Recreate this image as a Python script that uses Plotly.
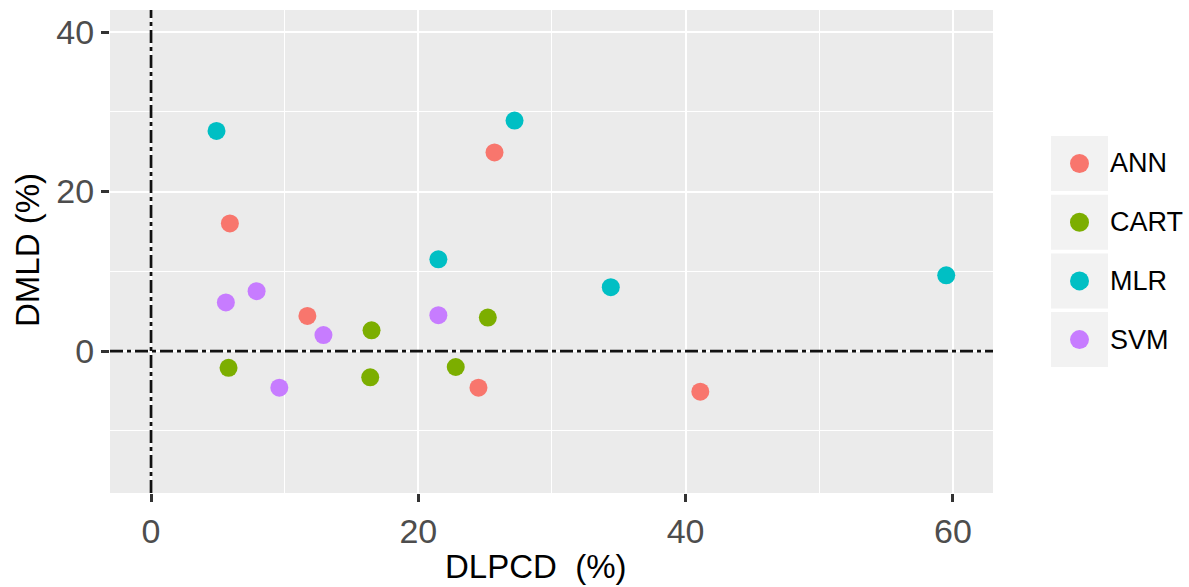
import plotly.graph_objects as go

# Model error comparison: DLPCD (x) versus DMLD (y), in percent
models = ["ANN", "CART", "MLR", "SVM"]
colors = ["#F8766D", "#7CAE00", "#00BFC4", "#C77CFF"]

ann_x = [5.9, 25.7, 11.7, 24.5, 41.1]
ann_y = [16.0, 24.9, 4.4, -4.6, -5.1]

cart_x = [5.8, 16.5, 16.4, 22.8, 25.2]
cart_y = [-2.1, 2.6, -3.3, -2.0, 4.2]

mlr_x = [4.9, 27.2, 21.5, 34.4, 59.5]
mlr_y = [27.6, 28.9, 11.5, 8.0, 9.5]

svm_x = [5.6, 7.9, 12.9, 9.6, 21.5]
svm_y = [6.1, 7.5, 2.0, -4.6, 4.5]

series_x = [ann_x, cart_x, mlr_x, svm_x]
series_y = [ann_y, cart_y, mlr_y, svm_y]

x_ticks = [0, 20, 40, 60]
y_ticks = [-20, 0, 20, 40]

W, H = 1189, 587
L, R, T, B = 110, 196, 10, 94
PW, PH = W - L - R, H - T - B

FONT = "Liberation Sans, Arial, sans-serif"

fig = go.Figure()
for name, col, xs, ys in zip(models, colors, series_x, series_y):
    fig.add_trace(go.Scatter(
        x=xs, y=ys, mode="markers", name=name,
        marker=dict(color=col, size=18, line=dict(width=0)),
        showlegend=False,
    ))

# dash-dot reference lines at zero
dash = "13px,4px,4px,4px"
fig.add_shape(type="line", xref="x", yref="paper", x0=0, x1=0, y0=0, y1=1,
              line=dict(color="#111111", width=2.7, dash=dash), layer="above")
fig.add_shape(type="line", xref="paper", yref="y", x0=0, x1=1, y0=0, y1=0,
              line=dict(color="#111111", width=2.7, dash=dash), layer="above")


def px_to_paper_x(px):
    return (px - L) / PW


def px_to_paper_y(py):
    return (H - B - py) / PH


# legend drawn as keyed boxes to the right of the panel
key_x0, key_x1 = 1051, 1108
key_top, key_h, key_pitch = 136, 55, 58.7
for i, (name, col) in enumerate(zip(models, colors)):
    top = key_top + i * key_pitch
    cy = top + key_h / 2
    fig.add_shape(type="rect", xref="paper", yref="paper",
                  x0=px_to_paper_x(key_x0), x1=px_to_paper_x(key_x1),
                  y0=px_to_paper_y(top + key_h), y1=px_to_paper_y(top),
                  fillcolor="#F2F2F2", line=dict(width=0), layer="above")
    fig.add_shape(type="circle", xref="paper", yref="paper",
                  xsizemode="pixel", ysizemode="pixel",
                  xanchor=px_to_paper_x(1079.5), yanchor=px_to_paper_y(cy),
                  x0=-9.5, x1=9.5, y0=-9.5, y1=9.5,
                  fillcolor=col, line=dict(width=0), layer="above")
    fig.add_annotation(x=px_to_paper_x(1108), y=px_to_paper_y(cy),
                       xref="paper", yref="paper", text=name, showarrow=False,
                       xanchor="left", yanchor="middle",
                       font=dict(family=FONT, size=27, color="black"))

# axis titles
fig.add_annotation(x=px_to_paper_x(536), y=0, xref="paper", yref="paper",
                   text="DLPCD\u00a0\u00a0(%)", showarrow=False,
                   xanchor="center", yanchor="bottom", yshift=-94,
                   font=dict(family=FONT, size=33, color="black"))
fig.add_annotation(x=0, y=px_to_paper_y(250), xref="paper", yref="paper",
                   text="DMLD (%)", showarrow=False, textangle=-90,
                   xanchor="center", yanchor="middle", xshift=-83,
                   font=dict(family=FONT, size=33, color="black"))

axis_common = dict(
    showline=False, zeroline=False,
    showgrid=True, gridcolor="white", gridwidth=2,
    ticks="outside", ticklen=8, tickwidth=3, tickcolor="#333333",
    tickfont=dict(family=FONT, size=34, color="#4D4D4D"),
    minor=dict(dtick=10, showgrid=True, gridcolor="white", gridwidth=1, ticks=""),
)

fig.update_xaxes(range=[-3.07, 63.0], tickvals=x_ticks, **axis_common)
fig.update_yaxes(range=[-17.8, 42.76], tickvals=y_ticks, **axis_common)

fig.update_layout(
    width=W, height=H,
    margin=dict(l=L, r=R, t=T, b=B),
    paper_bgcolor="white", plot_bgcolor="#EBEBEB",
    font=dict(family=FONT),
    showlegend=False,
)

fig.write_html("out.html")
